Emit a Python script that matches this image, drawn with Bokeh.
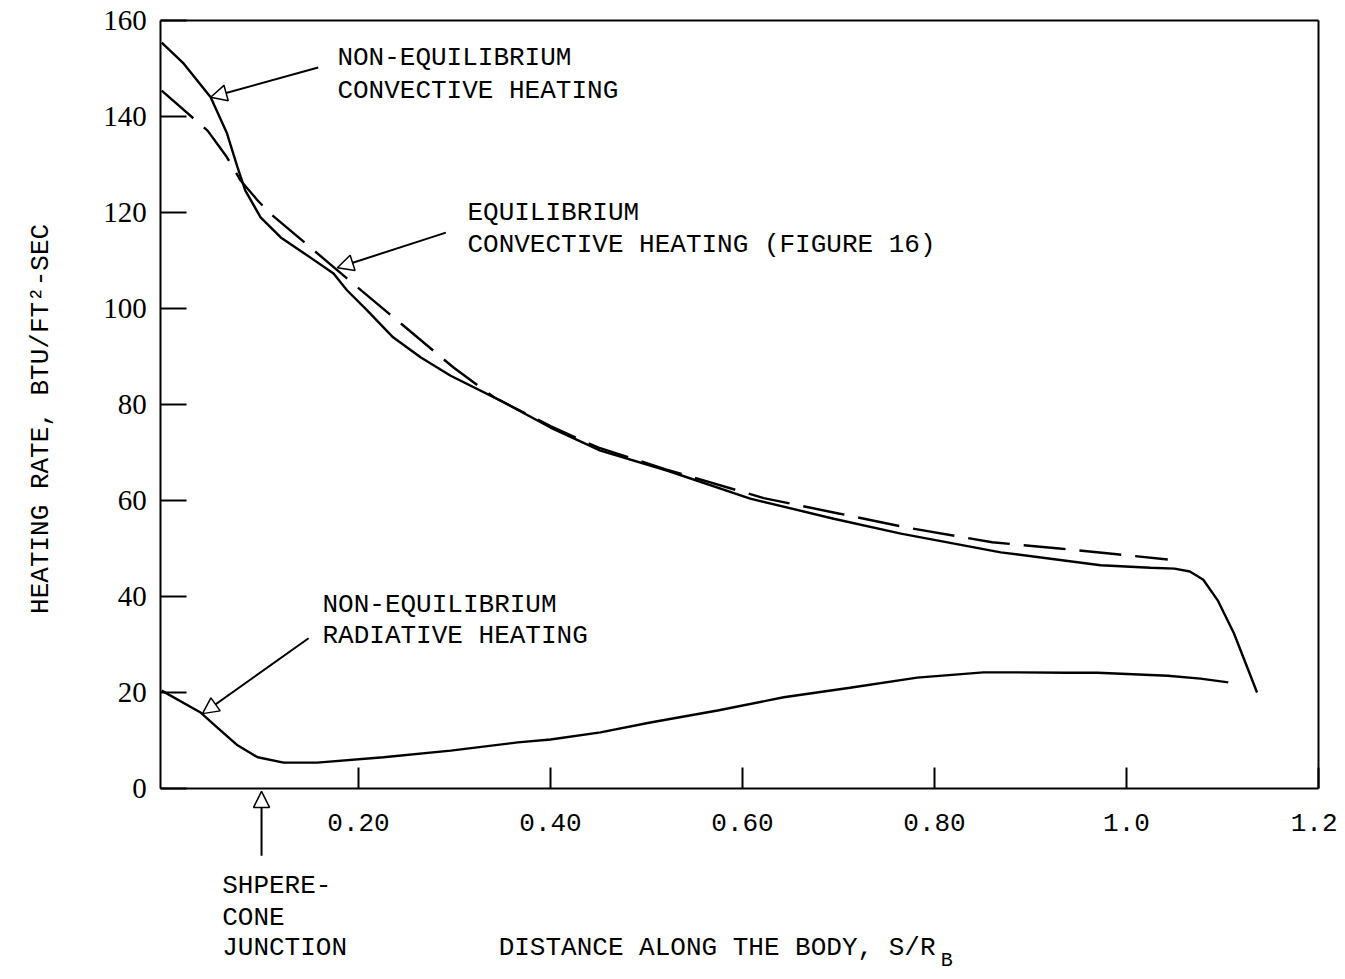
from bokeh.plotting import figure
from bokeh.models import Arrow, NormalHead, Label, FixedTicker, Range1d, LinearAxis
from bokeh.embed import file_html
from bokeh.resources import INLINE

# ---- data ----
ne_conv_x = [-0.005, 0.018, 0.046, 0.063, 0.074, 0.082, 0.098, 0.119, 0.150, 0.174,
             0.188, 0.209, 0.236, 0.265, 0.296, 0.348, 0.400, 0.452, 0.522, 0.608,
             0.695, 0.765, 0.869, 0.973, 1.025, 1.050, 1.066, 1.080, 1.095, 1.112, 1.136]
ne_conv_y = [155.4, 151.0, 144.0, 136.5, 129.4, 124.6, 119.0, 114.8, 110.6, 107.3,
             103.8, 99.6, 94.0, 89.8, 86.0, 80.8, 75.2, 70.4, 66.2, 60.4,
             56.2, 53.1, 49.2, 46.5, 46.0, 45.8, 45.2, 43.5, 39.2, 32.3, 20.0]

eq_conv_x = [-0.005, 0.015, 0.043, 0.063, 0.077, 0.095, 0.108, 0.150, 0.199, 0.244,
             0.299, 0.341, 0.400, 0.450, 0.520, 0.622, 0.700, 0.770, 0.860, 0.930,
             0.990, 1.043]
eq_conv_y = [145.4, 141.9, 137.0, 131.5, 126.7, 122.5, 119.8, 112.7, 104.4, 96.9,
             87.7, 81.5, 75.5, 71.0, 66.5, 60.5, 57.3, 54.4, 51.3, 50.0,
             48.8, 47.7]

ne_rad_x = [-0.005, 0.035, 0.053, 0.074, 0.095, 0.122, 0.157, 0.226, 0.296, 0.366,
            0.400, 0.452, 0.504, 0.574, 0.643, 0.712, 0.782, 0.851, 0.886, 0.939,
            0.970, 1.043, 1.077, 1.106]
ne_rad_y = [20.4, 15.9, 12.7, 9.0, 6.5, 5.4, 5.4, 6.5, 7.9, 9.6,
            10.2, 11.7, 13.75, 16.25, 19.0, 21.0, 23.1, 24.2, 24.2, 24.1,
            24.1, 23.5, 22.9, 22.1]

x_ticks = [0.2, 0.4, 0.6, 0.8, 1.0, 1.2]
x_tick_labels = ["0.20", "0.40", "0.60", "0.80", "1.0", "1.2"]
y_ticks = [0, 20, 40, 60, 80, 100, 120, 140, 160]

X_LO, X_HI = -0.006, 1.2
Y_LO, Y_HI = 0, 160

MONO = "Liberation Mono"
SERIF = "Liberation Serif"
FS = "26px"

# whole canvas is the frame so that texts below/left of the box are not clipped
p = figure(width=1337, height=971, output_backend="svg", toolbar_location=None,
           x_range=Range1d(-0.17292, 1.21979), y_range=Range1d(-38.125, 164.1667),
           x_axis_location=None, y_axis_location=None,
           min_border_left=0, min_border_right=0, min_border_top=0,
           min_border_bottom=0)
p.background_fill_color = "white"
p.border_fill_color = "white"
p.outline_line_color = None
for g in p.grid:
    g.visible = False


def style_axis(ax):
    ax.axis_line_color = "black"
    ax.axis_line_width = 2
    ax.major_tick_line_color = "black"
    ax.major_tick_line_width = 2
    ax.major_tick_out = 0
    ax.minor_tick_line_color = None
    ax.major_label_text_color = "black"
    ax.major_label_text_font_size = FS
    ax.major_label_text_font_style = "normal"


xaxis = LinearAxis(fixed_location=Y_LO, bounds=(X_LO, X_HI),
                   ticker=FixedTicker(ticks=x_ticks),
                   major_label_overrides=dict(zip(x_ticks, x_tick_labels)))
style_axis(xaxis)
xaxis.major_tick_in = 21
xaxis.major_label_text_font = MONO
xaxis.major_label_standoff = 25
p.add_layout(xaxis, "below")

yaxis = LinearAxis(fixed_location=X_LO, bounds=(Y_LO, Y_HI),
                   ticker=FixedTicker(ticks=y_ticks))
style_axis(yaxis)
yaxis.major_tick_in = 26
yaxis.major_label_text_font = SERIF
yaxis.major_label_text_font_size = "29px"
yaxis.major_label_standoff = 14
p.add_layout(yaxis, "left")

# top and right edges of the box
top = LinearAxis(fixed_location=Y_HI, bounds=(X_LO, X_HI), ticker=FixedTicker(ticks=[]))
style_axis(top)
top.major_tick_line_color = None
p.add_layout(top, "above")
right = LinearAxis(fixed_location=X_HI, bounds=(Y_LO, Y_HI), ticker=FixedTicker(ticks=[]))
style_axis(right)
right.major_tick_line_color = None
p.add_layout(right, "right")

p.line(ne_conv_x, ne_conv_y, line_color="black", line_width=2.4)
p.line(eq_conv_x, eq_conv_y, line_color="black", line_width=2.4, line_dash="42 14")
p.line(ne_rad_x, ne_rad_y, line_color="black", line_width=2.4)


def arrow(xs, ys, xe, ye):
    p.add_layout(Arrow(end=NormalHead(size=16, fill_color="white", line_color="black",
                                      line_width=1.5),
                       x_start=xs, y_start=ys, x_end=xe, y_end=ye,
                       line_color="black", line_width=2))


arrow(0.158, 150.2, 0.046, 144.0)
arrow(0.291, 115.8, 0.178, 108.5)
arrow(0.148, 31.3, 0.0375, 15.6)
arrow(0.099, -14.0, 0.099, -0.6)


def label(x, y, text, size=FS, angle=0.0, align="left"):
    p.add_layout(Label(x=x, y=y, text=text, text_font=MONO, text_font_size=size,
                       text_color="black", text_baseline="middle", text_align=align,
                       angle=angle))


label(0.178, 152.1, "NON-EQUILIBRIUM")
label(0.178, 145.4, "CONVECTIVE HEATING")
label(0.3135, 119.8, "EQUILIBRIUM")
label(0.3135, 113.3, "CONVECTIVE HEATING (FIGURE 16)")
label(0.1625, 38.3, "NON-EQUILIBRIUM")
label(0.1625, 31.7, "RADIATIVE HEATING")
label(0.058, -20.4, "SHPERE-")
label(0.058, -26.9, "CONE")
label(0.058, -33.3, "JUNCTION")
label(0.346, -33.3, "DISTANCE ALONG THE BODY, S/R")
label(0.8065, -35.9, "B", size="20px")
label(-0.131, 77.0, "HEATING RATE, BTU/FT\u00b2-SEC", angle=1.5708, align="center")

open("out.html", "w").write(file_html(p, INLINE))
